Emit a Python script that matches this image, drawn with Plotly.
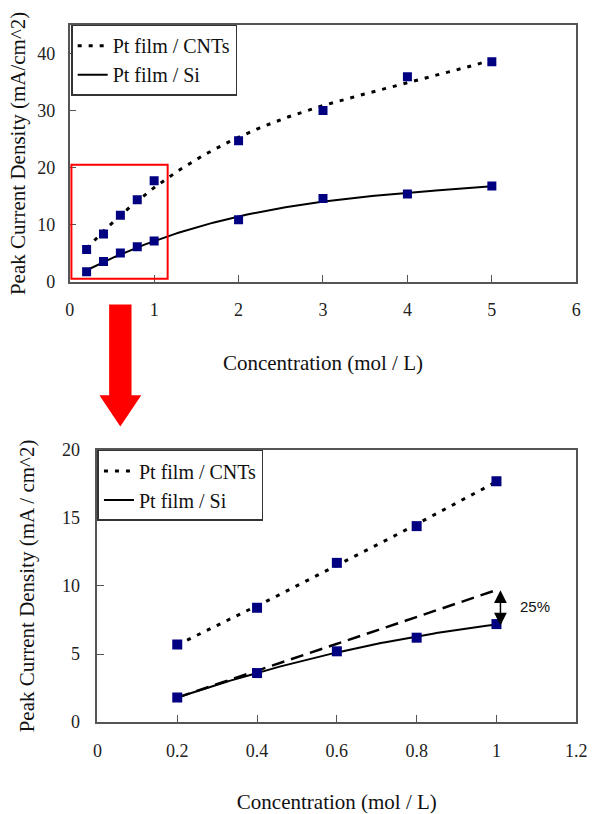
import numpy as np
import plotly.graph_objects as go

# ---- data ----
conc = [0.2, 0.4, 0.6, 0.8, 1.0, 2.0, 3.0, 4.0, 5.0]
pt_cnts = [5.7, 8.4, 11.7, 14.4, 17.7, 24.7, 30.0, 35.9, 38.5]
pt_si = [1.8, 3.6, 5.1, 6.2, 7.2, 10.9, 14.6, 15.4, 16.8]

low_conc = [0.2, 0.4, 0.6, 0.8, 1.0]
low_cnts = [5.7, 8.4, 11.7, 14.4, 17.7]
low_si = [1.8, 3.6, 5.2, 6.2, 7.2]

ideal_x = [0.2, 1.0]          # dashed linear extrapolation
ideal_y = [1.8, 9.7]

label_cnts = "Pt film / CNTs"
label_si = "Pt film / Si"

FONT = "Liberation Serif"
NAVY = "#000080"
AX = "#555555"
W, H = 597, 814


def trend(x, y, deg=2, n=160):
    c = np.polyfit(x, y, deg)
    xs = np.linspace(min(x), max(x), n)
    return xs, np.polyval(c, xs)


fig = go.Figure()

dot_style = "4px,7px"

# ---- top chart ----
tx, ty = trend(conc, pt_cnts, 3)
fig.add_trace(go.Scatter(x=tx, y=ty, mode="lines", name=label_cnts,
                         line=dict(color="black", width=3, dash=dot_style),
                         xaxis="x", yaxis="y", legend="legend"))
tx, ty = trend(conc, pt_si, 3)
fig.add_trace(go.Scatter(x=tx, y=ty, mode="lines", name=label_si,
                         line=dict(color="black", width=2),
                         xaxis="x", yaxis="y", legend="legend"))
for ys in (pt_cnts, pt_si):
    fig.add_trace(go.Scatter(x=conc, y=ys, mode="markers", showlegend=False,
                             marker=dict(symbol="square", size=9, color=NAVY),
                             xaxis="x", yaxis="y"))

# ---- bottom chart ----
bx, by = trend(low_conc, low_cnts)
fig.add_trace(go.Scatter(x=bx, y=by, mode="lines", name=label_cnts,
                         line=dict(color="black", width=3, dash=dot_style),
                         xaxis="x2", yaxis="y2", legend="legend2"))
bx, by = trend(low_conc, low_si)
fig.add_trace(go.Scatter(x=bx, y=by, mode="lines", name=label_si,
                         line=dict(color="black", width=2),
                         xaxis="x2", yaxis="y2", legend="legend2"))
fig.add_trace(go.Scatter(x=ideal_x, y=ideal_y, mode="lines", showlegend=False,
                         line=dict(color="black", width=2.5, dash="13px,7px"),
                         xaxis="x2", yaxis="y2"))
for ys in (low_cnts, low_si):
    fig.add_trace(go.Scatter(x=low_conc, y=ys, mode="markers", showlegend=False,
                             marker=dict(symbol="square", size=10, color=NAVY),
                             xaxis="x2", yaxis="y2"))

axis_common = dict(showline=True, linecolor=AX, linewidth=1.5, mirror=True,
                   ticks="inside", ticklen=7, tickcolor=AX, tickwidth=1.2,
                   showgrid=False, zeroline=False,
                   tickfont=dict(family=FONT, size=18, color="#222"),
                   title_font=dict(family=FONT, size=21, color="#111"))

def px_x(p):
    return p / W

def px_y(p):
    return 1 - p / H

fig.update_layout(
    width=W, height=H,
    margin=dict(l=0, r=0, t=0, b=0),
    paper_bgcolor="white", plot_bgcolor="white",
    xaxis=dict(domain=[px_x(66.5), px_x(587)], range=[0, 6], dtick=1,
               anchor="y", ticklabelstandoff=11,
               title=dict(text="Concentration (mol / L)", standoff=36),
               **axis_common),
    yaxis=dict(domain=[px_y(279), px_y(15)], range=[0, 45], tick0=0, dtick=10,
               anchor="x", ticklabelstandoff=9,
               title=dict(text="Peak Current Density (mA/cm^2)", standoff=6),
               **axis_common),
    xaxis2=dict(domain=[px_x(95), px_x(587)], range=[0, 1.2], dtick=0.2,
                anchor="y2", ticklabelstandoff=12,
                title=dict(text="Concentration (mol / L)", standoff=36),
                **axis_common),
    yaxis2=dict(domain=[px_y(730), px_y(451)], range=[0, 20], dtick=5,
                anchor="x2", ticklabelstandoff=12,
                title=dict(text="Peak Current Density (mA / cm^2)", standoff=22),
                **axis_common),
    legend=dict(x=px_x(68), y=px_y(15), xanchor="left", yanchor="top",
                bordercolor="#333", borderwidth=1.5, bgcolor="white",
                font=dict(family=FONT, size=20, color="#111"),
                tracegroupgap=0),
    legend2=dict(x=px_x(95), y=px_y(451), xanchor="left", yanchor="top",
                 bordercolor="#333", borderwidth=1.5, bgcolor="white",
                 font=dict(family=FONT, size=20, color="#111"),
                 tracegroupgap=0),
    showlegend=True,
)

# red zoom box on the top chart
fig.add_shape(type="rect", xref="x", yref="y", x0=0.02, x1=1.16, y0=0.6, y1=20.5,
              line=dict(color="red", width=2), fillcolor="rgba(0,0,0,0)")

# big red arrow between the charts (paper coords)
arrow_pts = [(107, 302), (130, 302), (130, 395), (140, 395), (118.5, 427),
             (97, 395), (107, 395)]
path = "M " + " L ".join(f"{px_x(x):.5f},{px_y(y):.5f}" for x, y in arrow_pts) + " Z"
fig.add_shape(type="path", xref="paper", yref="paper", path=path,
              fillcolor="#ff0000", line=dict(color="#ff0000", width=0))

# 25% double-headed arrow
fig.add_annotation(x=1.01, y=7.1, ax=1.01, ay=9.8, xref="x2", yref="y2",
                   axref="x2", ayref="y2", text="", showarrow=True,
                   arrowhead=2, startarrowhead=2, arrowside="end+start",
                   arrowsize=1.7, startarrowsize=1.7, arrowwidth=1.5, arrowcolor="black")
fig.add_annotation(x=1.055, y=8.5, xref="x2", yref="y2", text="25%", showarrow=False,
                   xanchor="left", font=dict(family="Liberation Sans", size=15, color="#111"))

fig.write_html("out.html")
